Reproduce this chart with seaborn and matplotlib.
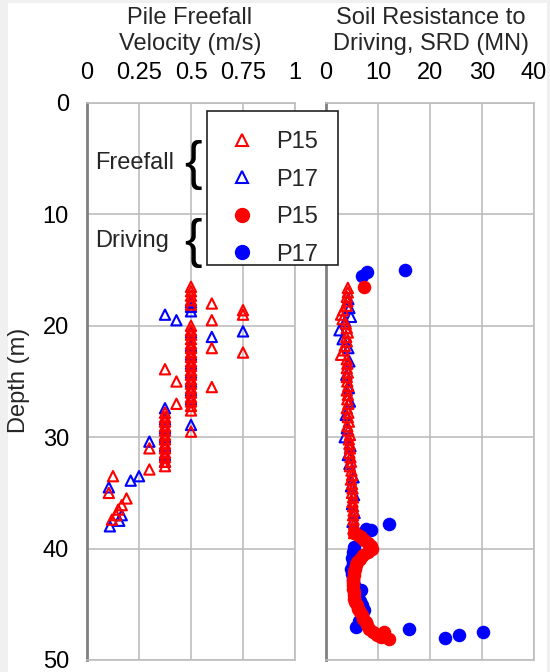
import matplotlib
matplotlib.use("Agg")
import matplotlib.pyplot as plt
from matplotlib.lines import Line2D
from matplotlib.patches import Rectangle
import seaborn as sns
import pandas as pd

# ---------------- data ----------------
# Left panel: pile freefall velocity (m/s) vs depth (m)
ff_p15_vel = [0.5, 0.5, 0.5, 0.5, 0.5, 0.6, 0.75, 0.75, 0.6,
              0.5, 0.5, 0.5, 0.5, 0.5, 0.5, 0.6, 0.75, 0.5, 0.5, 0.5, 0.5, 0.375, 0.5, 0.5, 0.5,
              0.43, 0.5, 0.6, 0.5, 0.5, 0.5, 0.5, 0.43, 0.5, 0.5,
              0.375, 0.375, 0.375, 0.375, 0.375, 0.5, 0.375, 0.375, 0.375, 0.3, 0.375, 0.375,
              0.375, 0.375, 0.375, 0.3, 0.125, 0.105, 0.19, 0.167, 0.15, 0.14, 0.12]
ff_p15_dep = [16.5, 16.9, 17.3, 17.7, 18.1, 18.0, 18.6, 19.0, 19.5,
              20.0, 20.4, 20.8, 21.2, 21.6, 22.0, 22.0, 22.4, 22.4, 22.8, 23.2, 23.6, 23.9, 24.0, 24.4, 24.8,
              25.0, 25.2, 25.5, 25.6, 26.0, 26.4, 26.8, 27.0, 27.2, 27.6,
              27.8, 28.2, 28.6, 29.0, 29.4, 29.5, 29.8, 30.2, 30.6, 31.0, 31.0, 31.4,
              31.8, 32.2, 32.6, 32.9, 33.5, 35.0, 35.5, 36.1, 36.5, 37.0, 37.4]
ff_p17_vel = [0.5, 0.5, 0.5, 0.375, 0.43, 0.6, 0.75, 0.5, 0.5, 0.5, 0.5, 0.5, 0.5, 0.5, 0.5,
              0.375, 0.5, 0.375, 0.375, 0.375, 0.3, 0.375, 0.375, 0.375, 0.25, 0.21, 0.105,
              0.167, 0.155, 0.11]
ff_p17_dep = [17.9, 18.3, 18.7, 19.0, 19.5, 21.0, 20.5, 20.6, 21.8, 22.6, 23.4, 24.2, 25.0, 25.8, 26.6,
              27.4, 28.9, 28.4, 29.2, 30.0, 30.4, 30.8, 31.6, 32.2, 33.5, 33.9, 34.5,
              37.0, 37.5, 38.0]

# Right panel triangles: SRD (MN) vs depth (m)
tri_p15_srd = [4.2, 4.2, 4.0, 4.1, 4.0, 3.3, 2.9, 3.2, 3.8, 4.0, 4.2, 3.9, 4.0, 3.6, 3.4, 2.9,
               4.0, 4.1, 4.0, 4.2, 4.0, 4.1, 4.3, 4.0, 4.2, 4.1, 4.3, 4.0, 4.3, 4.2, 4.4, 4.1,
               4.3, 4.6, 4.4, 4.5, 4.6, 4.5, 4.7, 4.8, 4.6, 4.9, 5.0, 4.8, 5.0, 5.1, 5.0, 5.2,
               5.1, 5.2, 5.3, 5.2, 5.3, 5.4, 5.3, 5.4]
tri_p15_dep = [16.6, 17.0, 17.4, 17.8, 18.2, 18.6, 19.0, 19.4, 19.8, 20.2, 20.6, 21.0, 21.4, 21.8,
               22.2, 22.6, 23.0, 23.4, 23.8, 24.2, 24.6, 25.0, 25.4, 25.8, 26.2, 26.6, 27.0, 27.4,
               27.8, 28.2, 28.6, 29.0, 29.4, 29.8, 30.2, 30.6, 31.0, 31.4, 31.8, 32.2, 32.6, 33.0,
               33.4, 33.8, 34.2, 34.6, 35.0, 35.4, 35.8, 36.2, 36.6, 37.0, 37.4, 37.8, 38.2, 38.6]
tri_p17_srd = [4.3, 4.5, 4.8, 3.7, 2.6, 3.2, 4.3, 4.5, 3.9, 4.4, 4.6, 3.8, 4.0, 3.6, 4.7, 4.2,
               4.5, 5.3, 4.8, 5.4, 5.0, 5.5, 5.1, 5.6]
tri_p17_dep = [17.6, 18.4, 19.2, 19.6, 20.4, 21.2, 22.0, 23.2, 24.4, 25.6, 26.8, 28.0, 29.2, 30.0,
               30.8, 31.6, 32.4, 33.6, 34.4, 35.2, 36.0, 36.8, 37.6, 38.4]

# Right panel circles: SRD (MN) vs depth (m)
cir_p15_srd = [7.3, 5.4, 6.2, 6.8, 7.3, 8.0, 8.6, 8.9, 8.0, 7.1, 6.5, 6.0, 5.7, 5.5, 5.4, 5.3,
               5.2, 5.2, 5.2, 5.2, 5.3, 5.3, 5.4, 5.6, 5.9, 6.2, 6.6, 6.9, 7.2, 7.6, 7.9, 8.3,
               9.0, 9.8, 11.1, 12.1, 10.5]
cir_p15_dep = [16.5, 38.6, 38.8, 39.0, 39.2, 39.5, 39.8, 40.0, 40.3, 40.6, 40.9, 41.2, 41.5, 41.8,
               42.1, 42.4, 42.7, 43.0, 43.3, 43.6, 43.9, 44.2, 44.5, 44.8, 45.1, 45.4, 45.7, 46.0,
               46.3, 46.6, 46.9, 47.2, 47.5, 47.8, 47.5, 48.1, 47.9]
cir_p17_srd = [15.2, 7.9, 7.0, 12.2, 7.6, 8.6, 5.4, 5.2, 5.0, 5.1, 4.9, 5.0, 5.1, 5.4, 6.7, 6.2,
               6.6, 7.0, 7.3, 6.9, 6.4, 5.7, 15.9, 22.9, 25.6, 30.2]
cir_p17_dep = [14.95, 15.2, 15.5, 37.8, 38.2, 38.3, 39.9, 40.3, 40.8, 41.3, 41.8, 42.3, 42.8, 43.3,
               43.7, 44.2, 44.7, 45.1, 45.5, 46.0, 46.5, 47.0, 47.2, 48.0, 47.8, 47.5]

vel_ticks = [0, 0.25, 0.5, 0.75, 1]
vel_labels = ["0", "0.25", "0.5", "0.75", "1"]
srd_ticks = [0, 10, 20, 30, 40]
depth_ticks = [0, 10, 20, 30, 40, 50]
series_labels = ["P15", "P17", "P15", "P17"]

# ---------------- style ----------------
sns.set_style("white")
plt.rcParams["font.family"] = ["Liberation Sans", "DejaVu Sans"]

RED = "#ff0000"
BLUE = "#0000ff"
GRID = "#bdbdbd"
FS = 17

fig = plt.figure(figsize=(5.5, 6.72), dpi=100)
fig.patch.set_facecolor("#f0f0f0")
fig.patches.append(Rectangle((8 / 550, 0), (547 - 8) / 550, 1 - 3 / 672,
                             transform=fig.transFigure, facecolor="white",
                             edgecolor="none", zorder=-10))

axL = fig.add_axes([87 / 550, 1 - 660 / 672, 208 / 550, 557 / 672])
axR = fig.add_axes([326 / 550, 1 - 660 / 672, 208 / 550, 557 / 672])

df_ff15 = pd.DataFrame({"v": ff_p15_vel, "d": ff_p15_dep})
df_ff17 = pd.DataFrame({"v": ff_p17_vel, "d": ff_p17_dep})
df_t15 = pd.DataFrame({"s": tri_p15_srd, "d": tri_p15_dep})
df_t17 = pd.DataFrame({"s": tri_p17_srd, "d": tri_p17_dep})
df_c15 = pd.DataFrame({"s": cir_p15_srd, "d": cir_p15_dep})
df_c17 = pd.DataFrame({"s": cir_p17_srd, "d": cir_p17_dep})

tri_kw = dict(marker="^", s=55, facecolors="none", linewidth=1.5, legend=False)
cir_kw = dict(marker="o", s=95, linewidth=0, legend=False)

sns.scatterplot(data=df_ff17, x="v", y="d", ax=axL, edgecolor=BLUE, zorder=3, **tri_kw)
sns.scatterplot(data=df_ff15, x="v", y="d", ax=axL, edgecolor=RED, zorder=4, **tri_kw)

sns.scatterplot(data=df_t17, x="s", y="d", ax=axR, edgecolor=BLUE, zorder=3, **tri_kw)
sns.scatterplot(data=df_t15, x="s", y="d", ax=axR, edgecolor=RED, zorder=4, **tri_kw)
sns.scatterplot(data=df_c17, x="s", y="d", ax=axR, color=BLUE, zorder=5, **cir_kw)
sns.scatterplot(data=df_c15, x="s", y="d", ax=axR, color=RED, zorder=6, **cir_kw)

for ax, ticks in ((axL, vel_ticks), (axR, srd_ticks)):
    ax.set_ylim(50, 0)
    ax.set_xlim(ticks[0], ticks[-1])
    ax.set_xticks(ticks)
    ax.set_yticks(depth_ticks)
    ax.xaxis.tick_top()
    ax.grid(True, color=GRID, linewidth=1.2)
    ax.set_axisbelow(True)
    ax.set_xlabel("")
    ax.set_ylabel("")
    ax.tick_params(axis="both", length=0, labelsize=FS, colors="black")
    ax.tick_params(axis="x", pad=14)
    ax.tick_params(axis="y", pad=13)
    for side in ("top", "right", "bottom"):
        ax.spines[side].set_color(GRID)
        ax.spines[side].set_linewidth(1.2)
        ax.spines[side].set_visible(True)
    ax.spines["left"].set_color("#808080")
    ax.spines["left"].set_linewidth(2)
    ax.spines["left"].set_visible(True)

axL.set_xticklabels(vel_labels)
axR.set_yticklabels([])

# titles
fig.text(190 / 550, 1 - 31 / 672, "Pile Freefall\nVelocity (m/s)", ha="center", va="center",
         fontsize=FS, linespacing=1.2)
fig.text(431 / 550, 1 - 31 / 672, "Soil Resistance to\nDriving, SRD (MN)", ha="center", va="center",
         fontsize=FS, linespacing=1.2)
fig.text(19 / 550, 1 - 380 / 672, "Depth (m)", rotation=90, ha="center", va="center", fontsize=FS)

# annotations
axL.text(0.04, 5.4, "Freefall", fontsize=FS, ha="left", va="center")
axL.text(0.51, 5.6, "{", fontsize=38, ha="center", va="center", color="black")
axL.text(0.04, 12.4, "Driving", fontsize=FS, ha="left", va="center")
axL.text(0.51, 12.6, "{", fontsize=38, ha="center", va="center", color="black")

# legend frame (drawn as a figure rectangle) + legend entries
fig.patches.append(Rectangle((207 / 550, 1 - 265 / 672), (338 - 207) / 550, (265 - 111) / 672,
                             transform=fig.transFigure, facecolor="white",
                             edgecolor="#222222", linewidth=1.2, zorder=19))
handles = [
    Line2D([], [], marker="^", ls="none", mfc="none", mec=RED, mew=1.5, ms=8),
    Line2D([], [], marker="^", ls="none", mfc="none", mec=BLUE, mew=1.5, ms=8),
    Line2D([], [], marker="o", ls="none", mfc=RED, mec=RED, ms=10),
    Line2D([], [], marker="o", ls="none", mfc=BLUE, mec=BLUE, ms=10),
]
leg = fig.legend(handles, series_labels, loc="upper left", bbox_to_anchor=(217 / 550, 1 - 131 / 672),
                 fontsize=FS, frameon=False, borderpad=0, labelspacing=0.66,
                 handlelength=2.1, handletextpad=0.42, borderaxespad=0)
leg.set_zorder(20)

fig.savefig("out.png", dpi=100, facecolor=fig.get_facecolor())
